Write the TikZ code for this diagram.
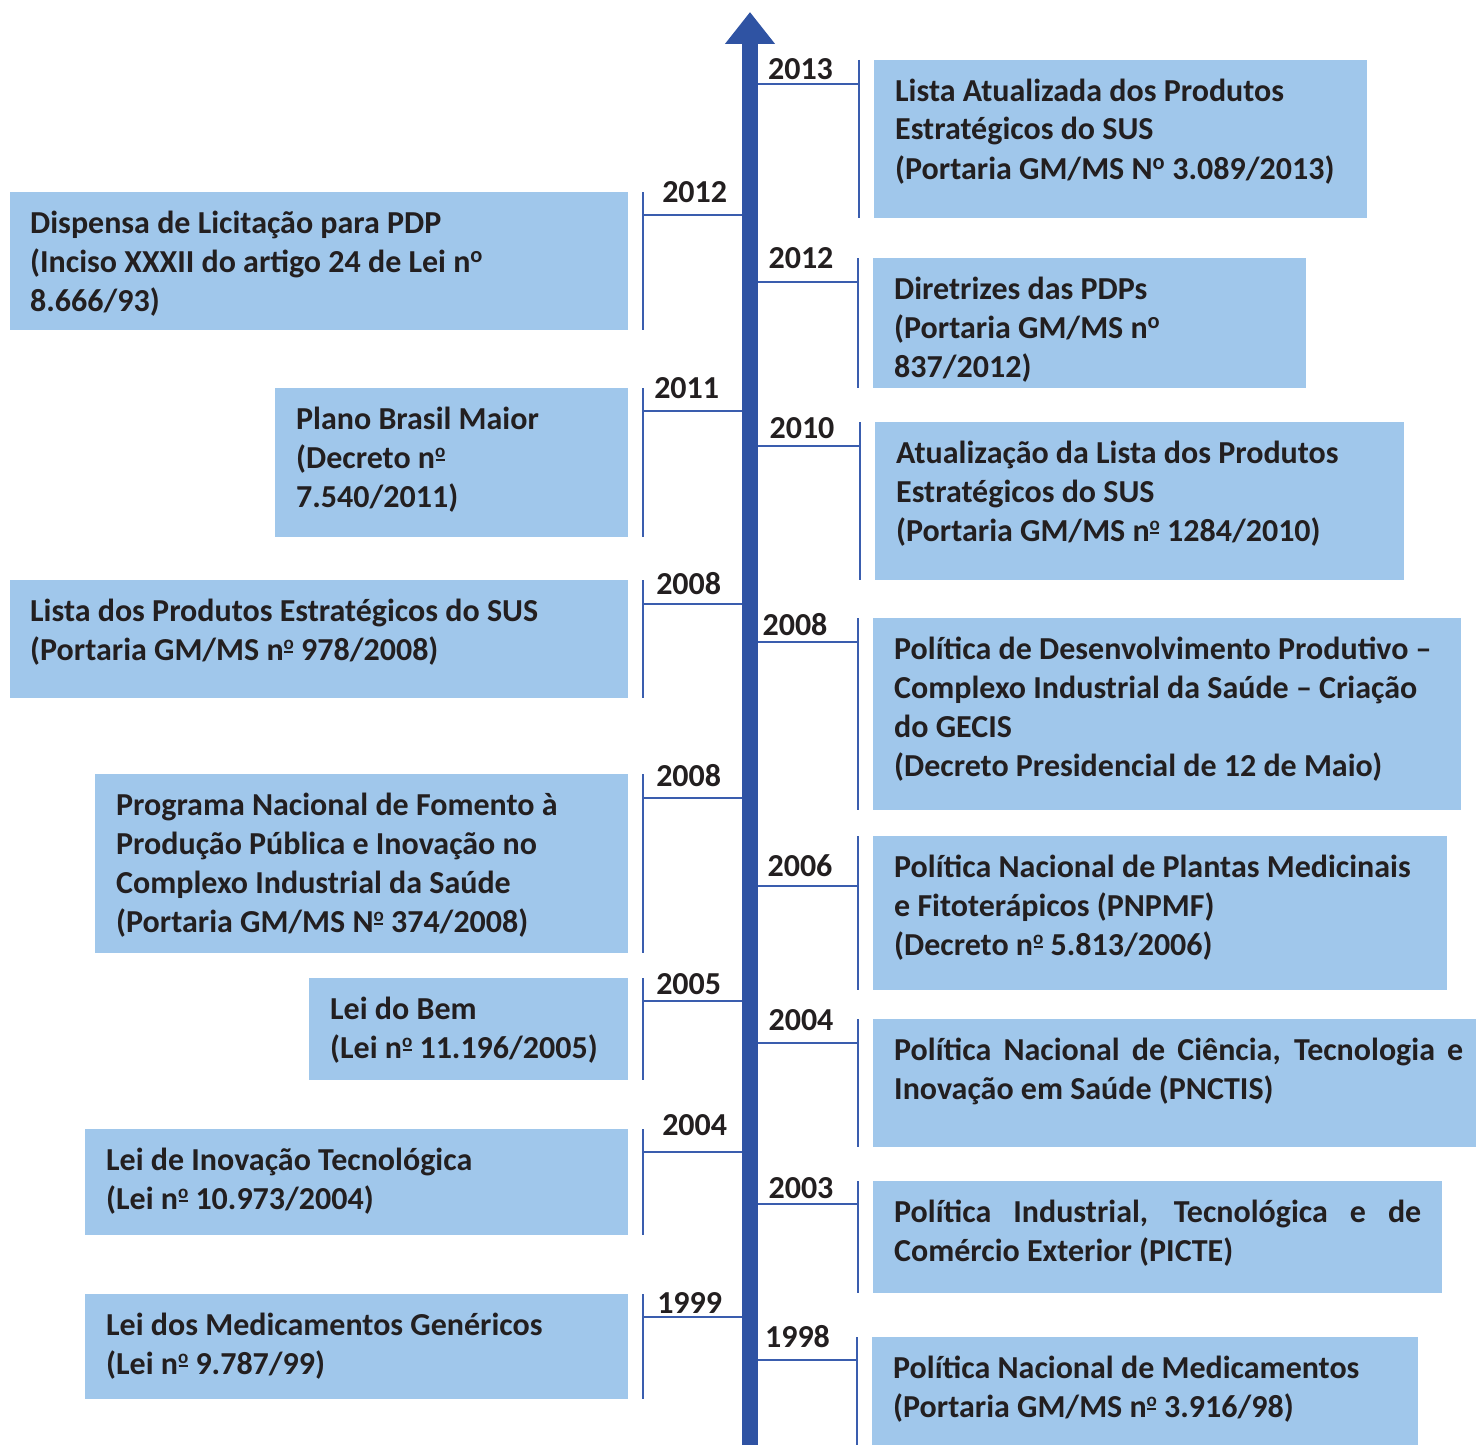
\documentclass[tikz,border=0pt]{standalone}
\usepackage{fontspec}
\setmainfont{Carlito}
\usetikzlibrary{arrows.meta}

\definecolor{axisblue}{RGB}{47,83,163}
\definecolor{lineblue}{RGB}{58,93,174}
\definecolor{boxblue}{RGB}{160,199,235}
\definecolor{inkgray}{RGB}{35,31,32}

% raised o with a bar under it, as in the printed "no"
\newcommand\ordbar{\raisebox{11pt}{\fontsize{19}{19}\selectfont o}\llap{\rule[7pt]{9pt}{2pt}\hspace{0.6pt}}}

\begin{document}
\begin{tikzpicture}[x=1pt,y=-1pt,
                    evbox/.style={fill=boxblue,draw=none,anchor=north west,inner sep=0pt},
                    evtext/.style={anchor=base west,inner sep=0pt,text=inkgray,
                                   font=\fontsize{32}{39}\selectfont\bfseries},
                    conn/.style={draw=lineblue,line width=2pt},
                    year/.style={anchor=base,inner sep=0pt,text=inkgray,
                                 font=\fontsize{32}{39}\selectfont\bfseries}]
  \useasboundingbox (0,0) rectangle (1476,1445);

  % time axis
  \coordinate (AxBot) at (750,1445);
  \coordinate (AxTop) at (750,12);
  \draw[axisblue,line width=16pt,-{Triangle[width=48pt,length=32pt]}] (AxBot) -- (AxTop);

  % left side
  \node[evbox,minimum width=618pt,minimum height=138pt] (Dispensa)  at (10,192)   {};
  \node[evbox,minimum width=353pt,minimum height=149pt] (Plano)     at (275,388)  {};
  \node[evbox,minimum width=618pt,minimum height=118pt] (ListaSUS)  at (10,580)   {};
  \node[evbox,minimum width=533pt,minimum height=179pt] (Fomento)   at (95,774)   {};
  \node[evbox,minimum width=319pt,minimum height=102pt] (Bem)       at (309,978)  {};
  \node[evbox,minimum width=543pt,minimum height=106pt] (Inovacao)  at (85,1129)  {};
  \node[evbox,minimum width=543pt,minimum height=105pt] (Genericos) at (85,1294)  {};

  \node[evtext] (DispensaT)  at ([shift={(20pt,-41pt)}]Dispensa.north west)
    {\parbox[t]{620pt}{Dispensa de Licitação para PDP\\(Inciso XXXII do artigo 24 de Lei n\textsuperscript{o}\\8.666/93)}};
  \node[evtext] (PlanoT)     at ([shift={(21pt,-41pt)}]Plano.north west)
    {\parbox[t]{620pt}{Plano Brasil Maior\\(Decreto n\ordbar\\7.540/2011)}};
  \node[evtext] (ListaSUST)  at ([shift={(20pt,-41pt)}]ListaSUS.north west)
    {\parbox[t]{620pt}{Lista dos Produtos Estratégicos do SUS\\(Portaria GM/MS n\ordbar{} 978/2008)}};
  \node[evtext] (FomentoT)   at ([shift={(21pt,-41pt)}]Fomento.north west)
    {\parbox[t]{620pt}{Programa Nacional de Fomento à\\Produção Pública e Inovação no\\Complexo Industrial da Saúde\\(Portaria GM/MS N\ordbar{} 374/2008)}};
  \node[evtext] (BemT)       at ([shift={(21pt,-41pt)}]Bem.north west)
    {\parbox[t]{620pt}{Lei do Bem\\(Lei n\ordbar{} 11.196/2005)}};
  \node[evtext] (InovacaoT)  at ([shift={(21pt,-41pt)}]Inovacao.north west)
    {\parbox[t]{620pt}{Lei de Inovação Tecnológica\\(Lei n\ordbar{} 10.973/2004)}};
  \node[evtext] (GenericosT) at ([shift={(21pt,-41pt)}]Genericos.north west)
    {\parbox[t]{620pt}{Lei dos Medicamentos Genéricos\\(Lei n\ordbar{} 9.787/99)}};

  % right side
  \node[evbox,minimum width=493pt,minimum height=158pt] (Atualizada)   at (874,60)   {};
  \node[evbox,minimum width=433pt,minimum height=130pt] (Diretrizes)   at (873,258)  {};
  \node[evbox,minimum width=529pt,minimum height=158pt] (Atualizacao)  at (875,422)  {};
  \node[evbox,minimum width=588pt,minimum height=192pt] (Desenv)       at (873,618)  {};
  \node[evbox,minimum width=574pt,minimum height=154pt] (Plantas)      at (873,836)  {};
  \node[evbox,minimum width=603pt,minimum height=128pt] (Pnctis)       at (873,1019) {};
  \node[evbox,minimum width=569pt,minimum height=112pt] (Picte)        at (873,1181) {};
  \node[evbox,minimum width=546pt,minimum height=108pt] (Medicamentos) at (872,1337) {};

  \node[evtext] (AtualizadaT)   at ([shift={(21pt,-41pt)}]Atualizada.north west)
    {\parbox[t]{620pt}{Lista Atualizada dos Produtos\\Estratégicos do SUS\\(Portaria GM/MS N\textsuperscript{o} 3.089/2013)}};
  \node[evtext] (DiretrizesT)   at ([shift={(21pt,-41pt)}]Diretrizes.north west)
    {\parbox[t]{620pt}{Diretrizes das PDPs\\(Portaria GM/MS n\textsuperscript{o}\\837/2012)}};
  \node[evtext] (AtualizacaoT)  at ([shift={(21pt,-41pt)}]Atualizacao.north west)
    {\parbox[t]{620pt}{Atualização da Lista dos Produtos\\Estratégicos do SUS\\(Portaria GM/MS n\ordbar{} 1284/2010)}};
  \node[evtext] (DesenvT)       at ([shift={(21pt,-41pt)}]Desenv.north west)
    {\parbox[t]{620pt}{Política de Desenvolvimento Produtivo –\\Complexo Industrial da Saúde – Criação\\do GECIS\\(Decreto Presidencial de 12 de Maio)}};
  \node[evtext] (PlantasT)      at ([shift={(21pt,-41pt)}]Plantas.north west)
    {\parbox[t]{620pt}{Política Nacional de Plantas Medicinais\\e Fitoterápicos (PNPMF)\\(Decreto n\ordbar{} 5.813/2006)}};
  \node[evtext] (PnctisT)       at ([shift={(21pt,-41pt)}]Pnctis.north west)
    {\parbox[t]{620pt}{\makebox[569pt][s]{Política Nacional de Ciência, Tecnologia e}\\Inovação em Saúde (PNCTIS)}};
  \node[evtext] (PicteT)        at ([shift={(21pt,-41pt)}]Picte.north west)
    {\parbox[t]{620pt}{\makebox[527pt][s]{Política Industrial, Tecnológica e de}\\Comércio Exterior (PICTE)}};
  \node[evtext] (MedicamentosT) at ([shift={(21pt,-41pt)}]Medicamentos.north west)
    {\parbox[t]{620pt}{Política Nacional de Medicamentos\\(Portaria GM/MS n\ordbar{} 3.916/98)}};

  % where the connectors meet the axis
  \coordinate (DispensaA)     at (742,215);
  \coordinate (PlanoA)        at (742,411);
  \coordinate (ListaSUSA)     at (742,604);
  \coordinate (FomentoA)      at (742,798);
  \coordinate (BemA)          at (742,1001);
  \coordinate (InovacaoA)     at (742,1152);
  \coordinate (GenericosA)    at (742,1317);
  \coordinate (AtualizadaA)   at (758,84);
  \coordinate (DiretrizesA)   at (758,282);
  \coordinate (AtualizacaoA)  at (758,446);
  \coordinate (DesenvA)       at (758,642);
  \coordinate (PlantasA)      at (758,886);
  \coordinate (PnctisA)       at (758,1043);
  \coordinate (PicteA)        at (758,1204);
  \coordinate (MedicamentosA) at (758,1360);

  % brackets and year connectors, left
  \path[conn] ([xshift=15pt]Dispensa.north east) edge ([xshift=15pt]Dispensa.south east)
              ([xshift=15pt,yshift=-23pt]Dispensa.north east) edge node[year,xshift=2pt,yshift=13pt] {2012} (DispensaA)
              ([xshift=15pt]Plano.north east) edge ([xshift=15pt]Plano.south east)
              ([xshift=15pt,yshift=-23pt]Plano.north east) edge node[year,xshift=-6pt,yshift=13pt] {2011} (PlanoA)
              ([xshift=15pt]ListaSUS.north east) edge ([xshift=15pt]ListaSUS.south east)
              ([xshift=15pt,yshift=-24pt]ListaSUS.north east) edge node[year,xshift=-4pt,yshift=10pt] {2008} (ListaSUSA)
              ([xshift=15pt]Fomento.north east) edge ([xshift=15pt]Fomento.south east)
              ([xshift=15pt,yshift=-24pt]Fomento.north east) edge node[year,xshift=-4pt,yshift=12pt] {2008} (FomentoA)
              ([xshift=15pt]Bem.north east) edge ([xshift=15pt]Bem.south east)
              ([xshift=15pt,yshift=-23pt]Bem.north east) edge node[year,xshift=-4pt,yshift=7pt] {2005} (BemA)
              ([xshift=15pt]Inovacao.north east) edge ([xshift=15pt]Inovacao.south east)
              ([xshift=15pt,yshift=-23pt]Inovacao.north east) edge node[year,xshift=2pt,yshift=17pt] {2004} (InovacaoA)
              ([xshift=15pt]Genericos.north east) edge ([xshift=15pt]Genericos.south east)
              ([xshift=15pt,yshift=-23pt]Genericos.north east) edge node[year,xshift=-3pt,yshift=4pt] {1999} (GenericosA);

  % brackets and year connectors, right
  \path[conn] ([xshift=-15pt]Atualizada.north west) edge ([xshift=-15pt]Atualizada.south west)
              (AtualizadaA) edge node[year,xshift=-8pt,yshift=4pt] {2013} ([xshift=-15pt,yshift=-24pt]Atualizada.north west)
              ([xshift=-15pt]Diretrizes.north west) edge ([xshift=-15pt]Diretrizes.south west)
              (DiretrizesA) edge node[year,xshift=-7pt,yshift=14pt] {2012} ([xshift=-15pt,yshift=-24pt]Diretrizes.north west)
              ([xshift=-15pt]Atualizacao.north west) edge ([xshift=-15pt]Atualizacao.south west)
              (AtualizacaoA) edge node[year,xshift=-7pt,yshift=8pt] {2010} ([xshift=-15pt,yshift=-24pt]Atualizacao.north west)
              ([xshift=-15pt]Desenv.north west) edge ([xshift=-15pt]Desenv.south west)
              (DesenvA) edge node[year,xshift=-13pt,yshift=7pt] {2008} ([xshift=-15pt,yshift=-24pt]Desenv.north west)
              ([xshift=-15pt]Plantas.north west) edge ([xshift=-15pt]Plantas.south west)
              (PlantasA) edge node[year,xshift=-8pt,yshift=10pt] {2006} ([xshift=-15pt,yshift=-50pt]Plantas.north west)
              ([xshift=-15pt]Pnctis.north west) edge ([xshift=-15pt]Pnctis.south west)
              (PnctisA) edge node[year,xshift=-7pt,yshift=13pt] {2004} ([xshift=-15pt,yshift=-24pt]Pnctis.north west)
              ([xshift=-15pt]Picte.north west) edge ([xshift=-15pt]Picte.south west)
              (PicteA) edge node[year,xshift=-7pt,yshift=6pt] {2003} ([xshift=-15pt,yshift=-23pt]Picte.north west)
              ([xshift=-15pt]Medicamentos.north west) edge ([xshift=-15pt]Medicamentos.south west)
              (MedicamentosA) edge node[year,xshift=-10pt,yshift=13pt] {1998} ([xshift=-15pt,yshift=-23pt]Medicamentos.north west);
\end{tikzpicture}
\end{document}
